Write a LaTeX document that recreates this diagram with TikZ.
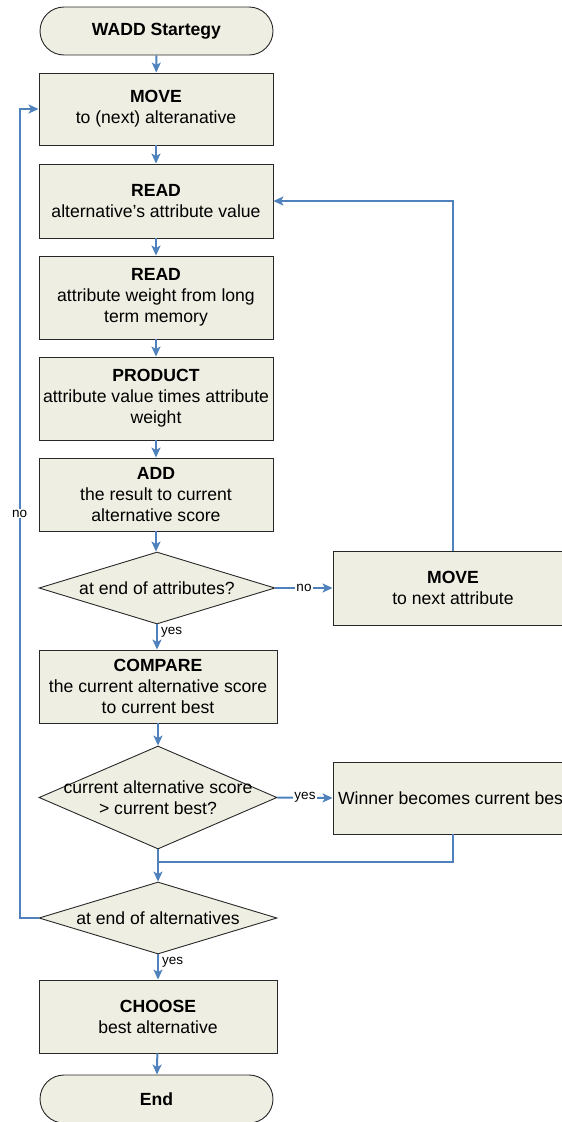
\documentclass[tikz,border=0pt]{standalone}
\usepackage{fontspec}
\setmainfont{Liberation Sans}
\usetikzlibrary{shapes.geometric,arrows.meta}
\definecolor{boxfill}{RGB}{238,238,226}
\definecolor{flowblue}{RGB}{79,129,189}
\definecolor{edge}{RGB}{40,40,40}
\begin{document}
\begin{tikzpicture}[x=1pt,y=-1pt,
  base/.style={draw=edge, fill=boxfill, line width=0.9pt,
    font=\fontsize{17.6}{21}\selectfont, align=center, inner sep=0pt},
  terminal/.style={base, rounded corners=24pt, minimum width=233pt, minimum height=48pt},
  procbox/.style n args={2}{base, rectangle, minimum width=#1, minimum height=#2},
  decision/.style n args={2}{base, diamond, minimum width=#1, minimum height=#2},
  dtext/.style={font=\fontsize{17.6}{21}\selectfont, align=center, inner sep=0pt},
  flow/.style={draw=flowblue, line width=2pt, -{Stealth[length=10pt,width=9pt,inset=2.5pt]}},
  thinflow/.style={draw=flowblue, line width=1.2pt},
  tag/.style={font=\fontsize{13.5}{15}\selectfont, fill=white, inner sep=1pt}
]
\useasboundingbox (0,0) rectangle (562,1122);
\clip (0,0) rectangle (562,1122);

% main column
\node[terminal] (start) at (156.5,31) {\textbf{WADD Startegy}};
\node[procbox={234pt}{72pt}] (move) at (156,109) {\textbf{MOVE}\\to (next) alteranative};
\node[procbox={234pt}{74pt}] (read1) at (156,201) {\textbf{READ}\\alternative’s attribute value};
\node[procbox={234pt}{83pt}] (read2) at (156,297.5) {\textbf{READ}\\attribute weight from long\\term memory};
\node[procbox={234pt}{83pt}] (product) at (156,398.5) {\textbf{PRODUCT}\\attribute value times attribute\\weight};
\node[procbox={234pt}{73pt}] (add) at (156,494.5) {\textbf{ADD}\\the result to current\\alternative score};

\node[decision={236pt}{72pt}] (dec1) at (157,588) {};
\node[dtext] at (dec1) {at end of attributes?};

\node[procbox={240pt}{74pt}] (movenext) at (453,588) {\textbf{MOVE}\\to next attribute};

\node[procbox={238pt}{73pt}] (compare) at (158,686.5) {\textbf{COMPARE}\\the current alternative score\\to current best};

\node[decision={238pt}{103pt}] (dec2) at (158,797.5) {};
\node[dtext] at (dec2) {current alternative score\\> current best?};

\node[procbox={240pt}{72pt}] (winner) at (453,798) {Winner becomes current best};

\node[decision={238pt}{72pt}] (dec3) at (158,918) {};
\node[dtext] at (dec3) {at end of alternatives};

\node[procbox={238pt}{73pt}] (choose) at (158,1016.5) {\textbf{CHOOSE}\\best alternative};
\node[terminal] (end) at (156.5,1099) {\textbf{End}};

% connectors
\draw[flow] (start) -- (move);
\draw[flow] (move) -- (read1);
\draw[flow] (read1) -- (read2);
\draw[flow] (read2) -- (product);
\draw[flow] (product) -- (add);
\draw[flow] (add.south) -- (add.south |- dec1.north);

\draw[flow] (dec1.east) -- node[tag] {no} (movenext.west);
\draw[flow] (movenext.north) |- (read1.east);

\draw[flow] (dec1.south) -- (dec1.south |- compare.north)
  node[pos=0.3, anchor=west, font=\fontsize{13.5}{15}\selectfont, inner sep=3pt] {yes};
\draw[flow] (compare.south) -- (compare.south |- dec2.north);

\draw[flow] (dec2.east) -- node[tag] {yes} (winner.west);
\coordinate (merge) at (158,862);
\draw[thinflow] (winner.south) |- (merge);
\draw[flow] (dec2.south) -- (dec3.north);

\draw[flow] (dec3.west) -- ++(-19,0) |- (move.west)
  node[tag, pos=0.25] {no};

\draw[flow] (dec3.south) -- (choose.north)
  node[pos=0.3, anchor=west, font=\fontsize{13.5}{15}\selectfont, inner sep=3pt] {yes};
\draw[flow] (choose) -- (end);
\end{tikzpicture}
\end{document}
